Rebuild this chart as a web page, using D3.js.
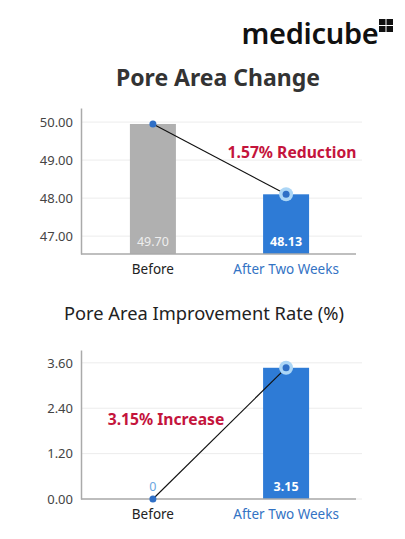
<!DOCTYPE html>
<html>
<head>
<meta charset="utf-8">
<script src="https://cdn.jsdelivr.net/npm/d3@7"></script>
<style>
  body { margin: 0; background: #fff; }
  svg { display: block; font-family: "Noto Sans", "Open Sans", sans-serif; }
</style>
</head>
<body>
<div id="chart"></div>
<script>
// categories and values (bar heights, labels as printed)
var categories = ["Before", "After Two Weeks"];
var areaValues = [49.95, 48.10];
var areaLabels = ["49.70", "48.13"];
var areaTicks = [47, 48, 49, 50];
var rateValues = [0, 3.47];
var rateLabels = ["0", "3.15"];
var rateTicks = [0, 1.2, 2.4, 3.6];

var W = 405, H = 539;

var svg = d3.select('#chart').append('svg')
    .attr('width', W)
    .attr('height', H);

// logo
var logo = svg.append('g');
logo.append('text')
    .attr('x', 310).attr('y', 44)
    .attr('text-anchor', 'middle')
    .attr('font-size', 29)
    .attr('font-weight', 600)
    .attr('letter-spacing', -0.3)
    .attr('fill', '#111')
    .text('medicube');
var cubeCells = [[0, 0], [1, 0], [0, 1], [1, 1]];
logo.selectAll('rect').data(cubeCells).enter().append('rect')
    .attr('x', d => 379 + d[0] * 7.5)
    .attr('y', d => 19 + d[1] * 7)
    .attr('width', 6.5)
    .attr('height', 6)
    .attr('fill', '#111');

// titles
svg.append('text')
    .attr('x', 218).attr('y', 86)
    .attr('text-anchor', 'middle')
    .attr('font-size', 23)
    .attr('font-weight', 700)
    .attr('fill', '#333')
    .text('Pore Area Change');

svg.append('text')
    .attr('x', 204).attr('y', 320)
    .attr('text-anchor', 'middle')
    .attr('font-size', 18.3)
    .attr('fill', '#222')
    .text('Pore Area Improvement Rate (%)');

function drawChart(opt) {
    var g = svg.append('g');

    var x = d3.scalePoint().domain(categories).range([81, 358]).padding(0.54);
    var y = d3.scaleLinear().domain(opt.domain).range([opt.bottom, opt.top]);
    var barW = 46;

    // grid
    g.selectAll('.grid').data(opt.ticks).enter().append('line')
        .attr('x1', 82).attr('x2', 362)
        .attr('y1', d => y(d)).attr('y2', d => y(d))
        .attr('stroke', '#ececec');

    // bars
    g.selectAll('.bar').data(opt.values).enter().append('rect')
        .attr('x', (d, i) => x(categories[i]) - barW / 2)
        .attr('y', d => y(d))
        .attr('width', barW)
        .attr('height', d => opt.bottom - y(d))
        .attr('fill', (d, i) => opt.colors[i]);

    // axes
    var yAxis = g.append('g')
        .attr('transform', 'translate(81,0)')
        .call(d3.axisLeft(y).tickValues(opt.ticks).tickSize(0).tickPadding(8).tickFormat(d3.format('.2f')));
    yAxis.select('.domain').attr('stroke', '#aaa').attr('stroke-width', 1.5);
    yAxis.selectAll('text')
        .attr('font-size', 13)
        .attr('fill', '#444')
        .attr('font-family', '"Noto Sans", sans-serif');

    g.append('line')
        .attr('x1', 81).attr('x2', 356)
        .attr('y1', opt.bottom).attr('y2', opt.bottom)
        .attr('stroke', '#aaa').attr('stroke-width', 1.5);

    g.selectAll('.cat').data(categories).enter().append('text')
        .attr('x', d => x(d))
        .attr('y', opt.bottom + 19.5)
        .attr('text-anchor', 'middle')
        .attr('font-size', 13.5)
        .attr('fill', (d, i) => i == 0 ? '#222' : '#3373c4')
        .text(d => d);

    // value labels
    g.selectAll('.lbl').data(opt.labels).enter().append('text')
        .attr('x', (d, i) => x(categories[i]))
        .attr('y', opt.bottom - 8)
        .attr('text-anchor', 'middle')
        .attr('font-size', 12.5)
        .attr('font-weight', (d, i) => opt.labelWeights[i])
        .attr('fill', (d, i) => opt.labelColors[i])
        .text(d => d);

    // connecting line
    var pts = opt.values.map((v, i) => [x(categories[i]), y(v)]);
    g.append('path')
        .attr('d', d3.line()(pts))
        .attr('stroke', '#111')
        .attr('stroke-width', 1.1)
        .attr('fill', 'none');

    g.append('circle')
        .attr('cx', pts[opt.halo][0]).attr('cy', pts[opt.halo][1])
        .attr('r', 7)
        .attr('fill', '#acd6f6');

    g.selectAll('.dot').data(pts).enter().append('circle')
        .attr('cx', d => d[0]).attr('cy', d => d[1])
        .attr('r', 3.5)
        .attr('fill', '#2f6fc6');

    g.append('text')
        .attr('x', opt.note.x).attr('y', opt.note.y)
        .attr('text-anchor', 'middle')
        .attr('font-size', 15.7)
        .attr('font-weight', 700)
        .attr('fill', '#c4143c')
        .text(opt.note.text);
}

drawChart({
    values: areaValues,
    labels: areaLabels,
    ticks: areaTicks,
    domain: [46.53, 50.37],
    top: 108, bottom: 254,
    colors: ['#b0b0b0', '#2e7bd6'],
    labelColors: ['#eeeeee', '#ffffff'],
    labelWeights: [400, 700],
    halo: 1,
    note: { x: 292, y: 158, text: '1.57% Reduction' }
});

drawChart({
    values: rateValues,
    labels: rateLabels,
    ticks: rateTicks,
    domain: [0, 3.94],
    top: 350, bottom: 499,
    colors: ['#2e7bd6', '#2e7bd6'],
    labelColors: ['#6aa6e0', '#ffffff'],
    labelWeights: [400, 700],
    halo: 1,
    note: { x: 166, y: 425, text: '3.15% Increase' }
});
</script>
</body>
</html>
